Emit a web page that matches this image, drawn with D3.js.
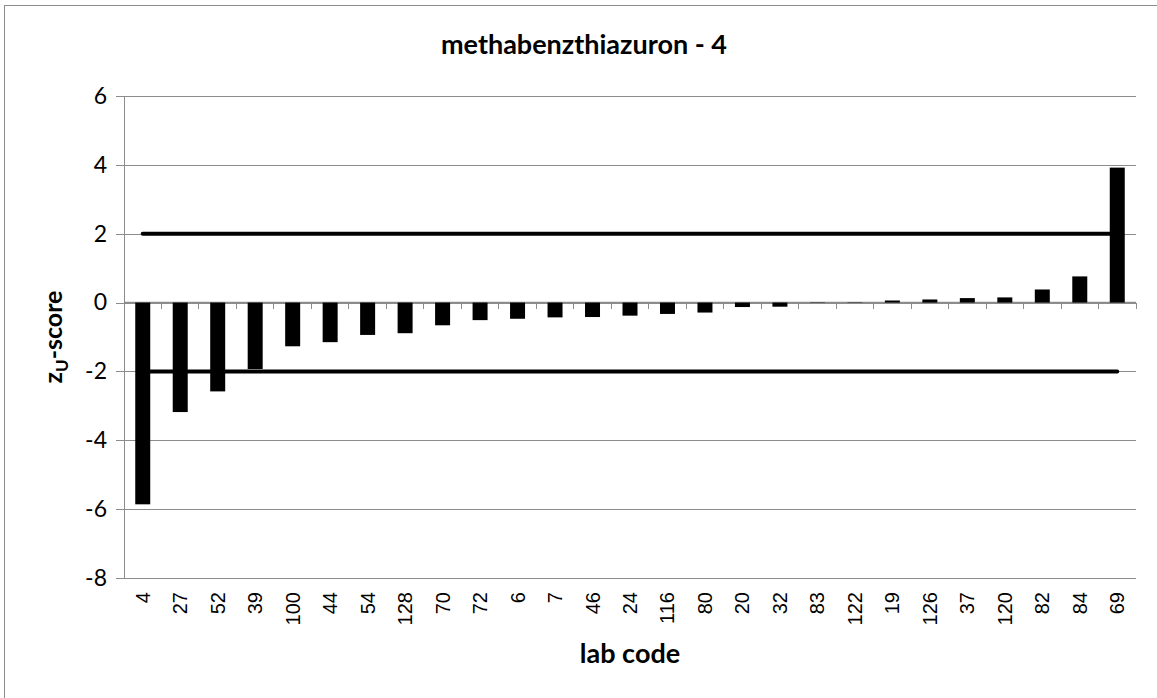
<!DOCTYPE html>
<html>
<head>
<meta charset="utf-8">
<script src="https://cdn.jsdelivr.net/npm/d3@7"></script>
<style>
body { margin: 0; background: #fff; }
.grid line { stroke: #8c8c8c; stroke-width: 1; shape-rendering: crispEdges; }
</style>
</head>
<body>
<svg id="chart" width="1157" height="698"></svg>
<script>
// data
var labCodes = ['4', '27', '52', '39', '100', '44', '54', '128', '70', '72', '6', '7', '46', '24',
    '116', '80', '20', '32', '83', '122', '19', '126', '37', '120', '82', '84', '69'];
var zScores = [-5.86, -3.18, -2.58, -1.93, -1.27, -1.15, -0.94, -0.89, -0.66, -0.51, -0.47, -0.43, -0.42, -0.38,
    -0.33, -0.29, -0.13, -0.12, 0.01, 0.01, 0.06, 0.09, 0.13, 0.15, 0.38, 0.76, 3.92];
var yTicks = [-8, -6, -4, -2, 0, 2, 4, 6];
var limits = [2, -2];

var svg = d3.select('#chart');
var svgWidth = +svg.attr('width');
var svgHeight = +svg.attr('height');

var padding = {t: 96, r: 21, b: 120, l: 124};
var chartWidth = svgWidth - padding.l - padding.r;
var chartHeight = svgHeight - padding.t - padding.b;

// outer frame (right and bottom edges fall outside the window)
svg.append('rect')
    .attr('x', 4.5).attr('y', 5.5)
    .attr('width', 1160).attr('height', 700)
    .attr('fill', 'none')
    .attr('stroke', '#8c8c8c');

var chartG = svg.append('g')
    .attr('transform', 'translate(' + [padding.l, padding.t] + ')');

var data = labCodes.map(function(c, i) { return {code: c, z: zScores[i]}; });

var xScale = d3.scaleBand()
    .domain(labCodes)
    .range([0, chartWidth])
    .paddingInner(0.6)
    .paddingOuter(0.3);

var yScale = d3.scaleLinear()
    .domain([-8, 6])
    .range([chartHeight, 0]);

// horizontal gridlines + y axis
var yAxis = d3.axisLeft(yScale)
    .tickValues(yTicks)
    .tickFormat(function(d) { return String(d); })
    .tickSize(-chartWidth)
    .tickPadding(17);
var yG = chartG.append('g').attr('class', 'grid').call(yAxis);
yG.select('.domain').remove();
yG.selectAll('.tick line').attr('x1', -8);
yG.selectAll('.tick text')
    .attr('font-family', 'Lato, "Open Sans", sans-serif')
    .attr('font-size', 23)
    .attr('fill', '#000');

chartG.append('line')
    .attr('class', 'grid')
    .attr('x1', 0).attr('x2', 0)
    .attr('y1', 0).attr('y2', chartHeight)
    .attr('stroke', '#8c8c8c')
    .attr('shape-rendering', 'crispEdges');

// category axis crossing at zero, ticks on the boundaries
var step = xScale.step();
var bounds = labCodes.map(function(c) { return xScale(c) + xScale.bandwidth() / 2 - step / 2; });
bounds.push(chartWidth);

chartG.append('line')
    .attr('x1', 0).attr('x2', chartWidth)
    .attr('y1', yScale(0)).attr('y2', yScale(0))
    .attr('stroke', '#8c8c8c')
    .attr('stroke-width', 1.5);

chartG.selectAll('.xtick')
    .data(bounds)
    .enter().append('line')
    .attr('class', 'xtick')
    .attr('x1', function(d) { return d; })
    .attr('x2', function(d) { return d; })
    .attr('y1', yScale(0))
    .attr('y2', yScale(0) + 6)
    .attr('stroke', '#8c8c8c')
    .attr('shape-rendering', 'crispEdges');

// limit lines at +/-2 (drawn under the bars)
chartG.selectAll('.limit')
    .data(limits)
    .enter().append('line')
    .attr('class', 'limit')
    .attr('x1', xScale(labCodes[0]) + xScale.bandwidth() / 2)
    .attr('x2', xScale(labCodes[labCodes.length - 1]) + xScale.bandwidth() / 2)
    .attr('y1', function(d) { return yScale(d); })
    .attr('y2', function(d) { return yScale(d); })
    .attr('stroke', '#000')
    .attr('stroke-width', 4)
    .attr('stroke-linecap', 'round');

// bars
chartG.selectAll('.bar')
    .data(data)
    .enter().append('rect')
    .attr('class', 'bar')
    .attr('x', function(d) { return xScale(d.code); })
    .attr('width', xScale.bandwidth())
    .attr('y', function(d) { return yScale(Math.max(0, d.z)); })
    .attr('height', function(d) { return Math.abs(yScale(d.z) - yScale(0)); })
    .attr('fill', '#000');

// category labels at the bottom, rotated
chartG.selectAll('.xlabel')
    .data(labCodes)
    .enter().append('text')
    .attr('class', 'xlabel')
    .attr('transform', function(d) {
        return 'translate(' + (xScale(d) + xScale.bandwidth() / 2 + 7) + ',' + (chartHeight + 14) + ') rotate(-90)';
    })
    .attr('text-anchor', 'end')
    .attr('font-family', '"Liberation Sans", Arial, sans-serif')
    .attr('font-size', 20)
    .attr('fill', '#000')
    .text(function(d) { return d; });

// titles
svg.append('text')
    .attr('x', 584)
    .attr('y', 54)
    .attr('text-anchor', 'middle')
    .attr('font-family', 'Lato, "Open Sans", sans-serif')
    .attr('font-weight', 'bold')
    .attr('font-size', 27)
    .attr('fill', '#000')
    .text('methabenzthiazuron - 4');

svg.append('text')
    .attr('x', padding.l + chartWidth / 2)
    .attr('y', 663)
    .attr('text-anchor', 'middle')
    .attr('font-family', 'Lato, "Open Sans", sans-serif')
    .attr('font-weight', 'bold')
    .attr('font-size', 27)
    .attr('fill', '#000')
    .text('lab code');

var yLabel = svg.append('text')
    .attr('transform', 'translate(62,' + (padding.t + chartHeight / 2) + ') rotate(-90)')
    .attr('text-anchor', 'middle')
    .attr('font-family', 'Lato, "Open Sans", sans-serif')
    .attr('font-weight', 'bold')
    .attr('font-size', 25)
    .attr('fill', '#000');
yLabel.append('tspan').text('z');
yLabel.append('tspan').attr('font-size', 17).attr('dy', 6).text('U');
yLabel.append('tspan').attr('dy', -6).text('-score');
</script>
</body>
</html>
